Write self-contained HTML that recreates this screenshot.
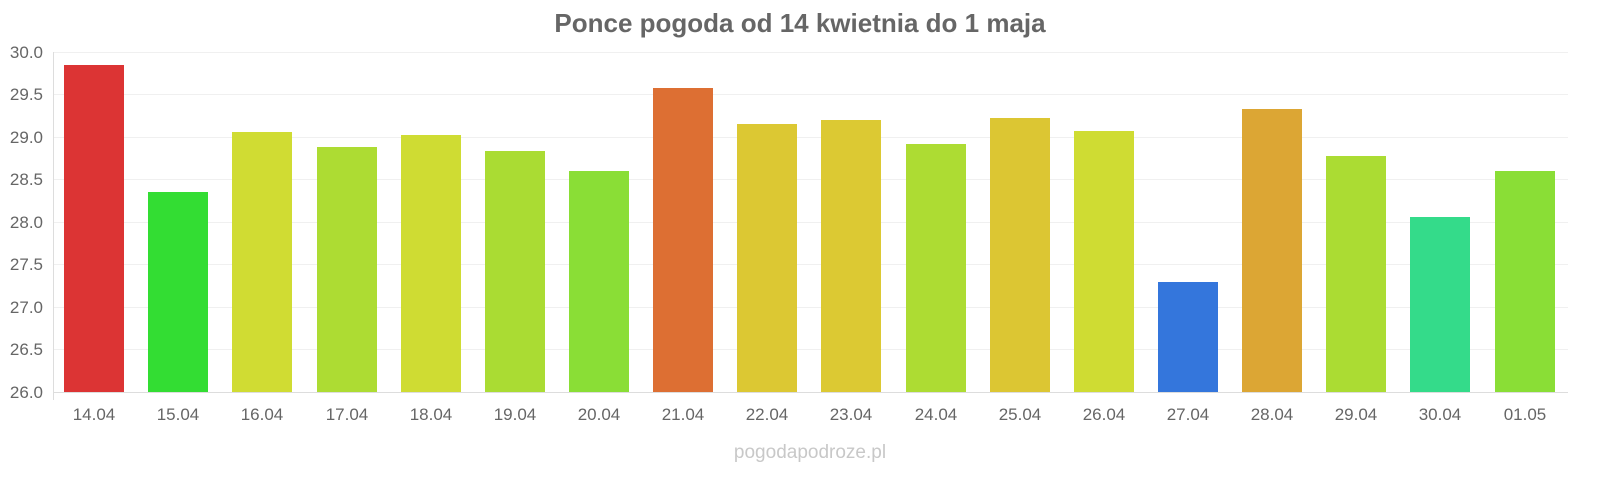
<!DOCTYPE html>
<html><head><meta charset="utf-8"><style>
body{margin:0;background:#fff;}
svg text{font-family:"Liberation Sans",sans-serif;}
</style></head><body>
<svg width="1600" height="480" viewBox="0 0 1600 480" xmlns="http://www.w3.org/2000/svg">
<rect width="1600" height="480" fill="#fff"/>
<text x="800" y="32" text-anchor="middle" font-size="26" font-weight="bold" fill="#666">Ponce pogoda od 14 kwietnia do 1 maja</text>
<g stroke="#f0f0f0" stroke-width="1">
<line x1="53" x2="1568" y1="52.5" y2="52.5"/><line x1="53" x2="1568" y1="94.5" y2="94.5"/>
<line x1="53" x2="1568" y1="137.5" y2="137.5"/><line x1="53" x2="1568" y1="179.5" y2="179.5"/>
<line x1="53" x2="1568" y1="222.5" y2="222.5"/><line x1="53" x2="1568" y1="264.5" y2="264.5"/>
<line x1="53" x2="1568" y1="307.5" y2="307.5"/><line x1="53" x2="1568" y1="349.5" y2="349.5"/>
</g>
<line x1="53.5" x2="53.5" y1="52" y2="400" stroke="#ddd"/>
<line x1="53" x2="1568" y1="392.5" y2="392.5" stroke="#ddd"/>
<g font-size="17" fill="#666" text-anchor="end">
<text x="43" y="58">30.0</text><text x="43" y="100">29.5</text><text x="43" y="143">29.0</text>
<text x="43" y="185">28.5</text><text x="43" y="228">28.0</text><text x="43" y="270">27.5</text>
<text x="43" y="313">27.0</text><text x="43" y="355">26.5</text><text x="43" y="398">26.0</text>
</g>
<g>
<rect x="64" y="65" width="60" height="327" fill="#dc3434"/>
<rect x="148" y="192" width="60" height="200" fill="#33dd33"/>
<rect x="232" y="132" width="60" height="260" fill="#d0dc33"/>
<rect x="317" y="147" width="60" height="245" fill="#addc33"/>
<rect x="401" y="135" width="60" height="257" fill="#cfdc33"/>
<rect x="485" y="151" width="60" height="241" fill="#aadc33"/>
<rect x="569" y="171" width="60" height="221" fill="#8ade36"/>
<rect x="653" y="88" width="60" height="304" fill="#dd6f33"/>
<rect x="737" y="124" width="60" height="268" fill="#dcc833"/>
<rect x="821" y="120" width="60" height="272" fill="#dcc933"/>
<rect x="906" y="144" width="60" height="248" fill="#addc33"/>
<rect x="990" y="118" width="60" height="274" fill="#dcc633"/>
<rect x="1074" y="131" width="60" height="261" fill="#cfdc33"/>
<rect x="1158" y="282" width="60" height="110" fill="#3476dc"/>
<rect x="1242" y="109" width="60" height="283" fill="#dca634"/>
<rect x="1326" y="156" width="60" height="236" fill="#abdc33"/>
<rect x="1410" y="217" width="60" height="175" fill="#34db8a"/>
<rect x="1495" y="171" width="60" height="221" fill="#8ade36"/>
</g>
<g font-size="17" fill="#666" text-anchor="middle">
<text x="94" y="420">14.04</text><text x="178" y="420">15.04</text><text x="262" y="420">16.04</text>
<text x="347" y="420">17.04</text><text x="431" y="420">18.04</text><text x="515" y="420">19.04</text>
<text x="599" y="420">20.04</text><text x="683" y="420">21.04</text><text x="767" y="420">22.04</text>
<text x="851" y="420">23.04</text><text x="936" y="420">24.04</text><text x="1020" y="420">25.04</text>
<text x="1104" y="420">26.04</text><text x="1188" y="420">27.04</text><text x="1272" y="420">28.04</text>
<text x="1356" y="420">29.04</text><text x="1440" y="420">30.04</text><text x="1525" y="420">01.05</text>
</g>
<text x="810" y="458" text-anchor="middle" font-size="19" fill="#c8c8c8">pogodapodroze.pl</text>
</svg>
</body></html>
